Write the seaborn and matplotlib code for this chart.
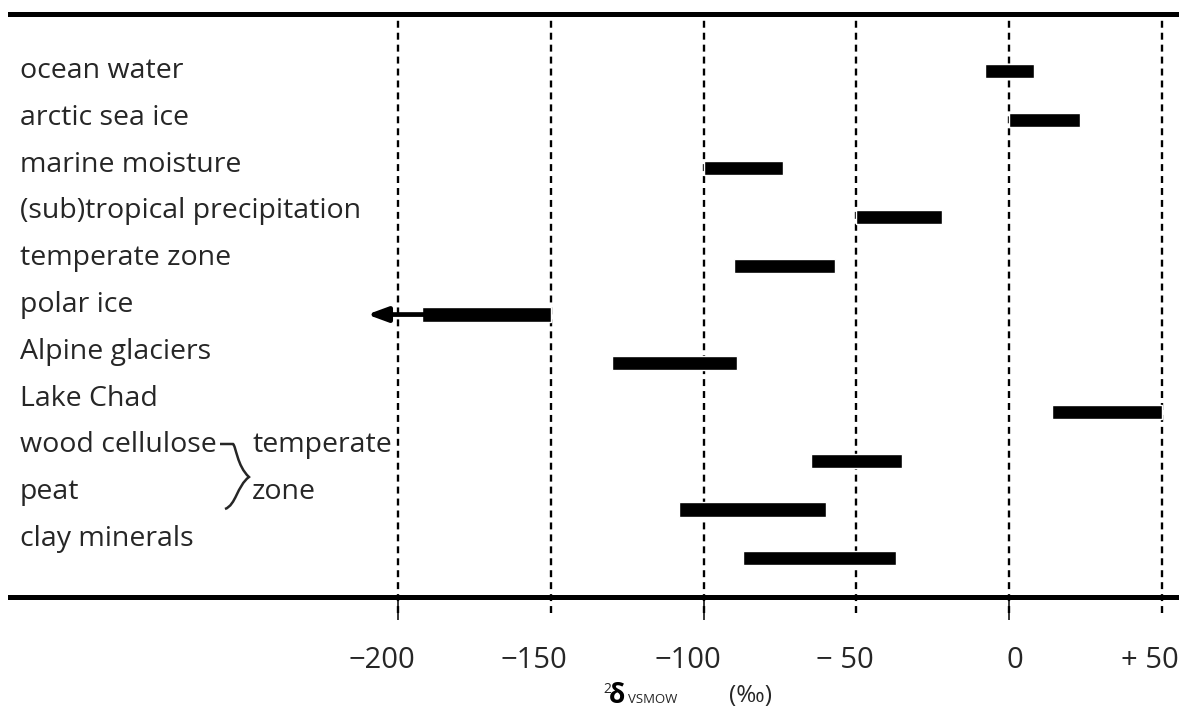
import matplotlib
matplotlib.use("Agg")
import matplotlib.pyplot as plt
import matplotlib.transforms as mtransforms
from matplotlib.path import Path
from matplotlib.patches import PathPatch
import seaborn as sns
import pandas as pd

# data (delta 2H, permil vs VSMOW)
categories = ["ocean water", "arctic sea ice", "marine moisture",
              "(sub)tropical precipitation", "temperate zone", "polar ice",
              "Alpine glaciers", "Lake Chad", "wood cellulose", "peat",
              "clay minerals"]
range_start = [-8, 0, -100, -50, -90, -192, -130, 14, -65, -108, -87]
range_end = [8, 23, -74, -22, -57, -150, -89, 50, -35, -60, -37]
polar_arrow_tip = -210

tick_values = [-200, -150, -100, -50, 0, 50]
tick_labels = ["\u2212200", "\u2212150", "\u2212100", "\u2212 50", "0", "+ 50"]
solid_ticks = [-200, -100, 0]

W, H = 1182, 717
PX = 3.058  # pixels per permil

sns.set_theme(style="white")
plt.rcParams["font.family"] = ["Open Sans", "DejaVu Sans"]
plt.rcParams["lines.scale_dashes"] = False
txt_color = "#262626"
FS = 20.5

df = pd.DataFrame({"label": categories, "start": range_start, "end": range_end})
df["width"] = df["end"] - df["start"]

fig = plt.figure(figsize=(W / 100, H / 100), dpi=100)
ax = fig.add_axes([10 / W, 1 - 597 / H, 1166 / W, 583 / H])

sns.barplot(data=df, x="width", y="label", left=df["start"].values,
            color="black", width=0.29, errorbar=None, saturation=1,
            ax=ax, zorder=3)

# arrow for polar ice (extends beyond the plotted range)
i_polar = categories.index("polar ice")
ax.annotate("", xy=(polar_arrow_tip, i_polar), xytext=(range_start[i_polar] + 1, i_polar),
            arrowprops=dict(arrowstyle="-|>,head_length=0.6,head_width=0.22",
                            mutation_scale=20, lw=3.4, color="black",
                            shrinkA=0, shrinkB=0), zorder=3)

ax.set_xlim(-200 + (10 - 397.7) / PX, 50 + (1176 - 1162.3) / PX)
ax.set_ylim(10.797, -1.168)

# dashed reference lines
for v in tick_values:
    ax.axvline(v, ymin=-0.027, ymax=1, color="black", lw=1.7,
               ls=(0, (5, 3.6)), clip_on=False, zorder=1)

# spines
for side in ["left", "right"]:
    ax.spines[side].set_visible(False)
for side in ["top", "bottom"]:
    ax.spines[side].set_linewidth(3.6)
    ax.spines[side].set_color("black")

ax.set_yticks([])
ax.set_ylabel("")
ax.set_xlabel("")
ax.set_xticks([])
ax.set_xticks(solid_ticks, minor=True)
ax.tick_params(axis="x", which="minor", bottom=True, length=16.5, width=1.1,
               direction="out", color="black", labelbottom=False)

# tick labels, nudged like the original
tick_offsets = [-16, -17, -16, -12, 5, -12]
xtrans = mtransforms.blended_transform_factory(ax.transData, ax.transAxes)
for v, lab, off in zip(tick_values, tick_labels, tick_offsets):
    ax.text(v + off / PX, -0.1218, lab, transform=xtrans, ha="center",
            va="baseline", fontsize=21, color=txt_color)

# category labels
ytrans = mtransforms.blended_transform_factory(ax.transAxes, ax.transData)
for i, lab in enumerate(categories):
    ax.text(0.0086, 0.146 + 0.9604 * i, lab, transform=ytrans, ha="left",
            va="baseline", fontsize=FS, color=txt_color)

i_wood = categories.index("wood cellulose")
i_peat = categories.index("peat")
ax.text(0.2084, 0.146 + 0.9604 * i_wood, "temperate", transform=ytrans,
        ha="left", va="baseline", fontsize=FS, color=txt_color)
ax.text(0.2075, 0.146 + 0.9604 * i_peat, "zone", transform=ytrans,
        ha="left", va="baseline", fontsize=FS, color=txt_color)


# brace joining wood cellulose and peat
def fp(x, y):
    return (x / W, 1 - y / H)


verts = [fp(220, 444), fp(233, 444),
         fp(236, 446), fp(237, 466), fp(249, 477),
         fp(237, 486), fp(236, 505), fp(225, 509)]
codes = [Path.MOVETO, Path.LINETO,
         Path.CURVE4, Path.CURVE4, Path.CURVE4,
         Path.CURVE4, Path.CURVE4, Path.CURVE4]
fig.patches.append(PathPatch(Path(verts, codes), fill=False, lw=1.8,
                             edgecolor=txt_color, transform=fig.transFigure))

# axis title: 2-delta VSMOW (permil)
fig.text(*fp(603, 693), "2", fontsize=10, va="baseline", color=txt_color)
fig.text(*fp(609, 703), "\u03b4", fontsize=19, fontweight="bold", va="baseline",
         color="black")
fig.text(*fp(628, 703), "VSMOW", fontsize=9.5, va="baseline", color=txt_color)
fig.text(*fp(729, 702), "(\u2030)", fontsize=17.5, va="baseline", color=txt_color)

fig.savefig("out.png", dpi=100)
